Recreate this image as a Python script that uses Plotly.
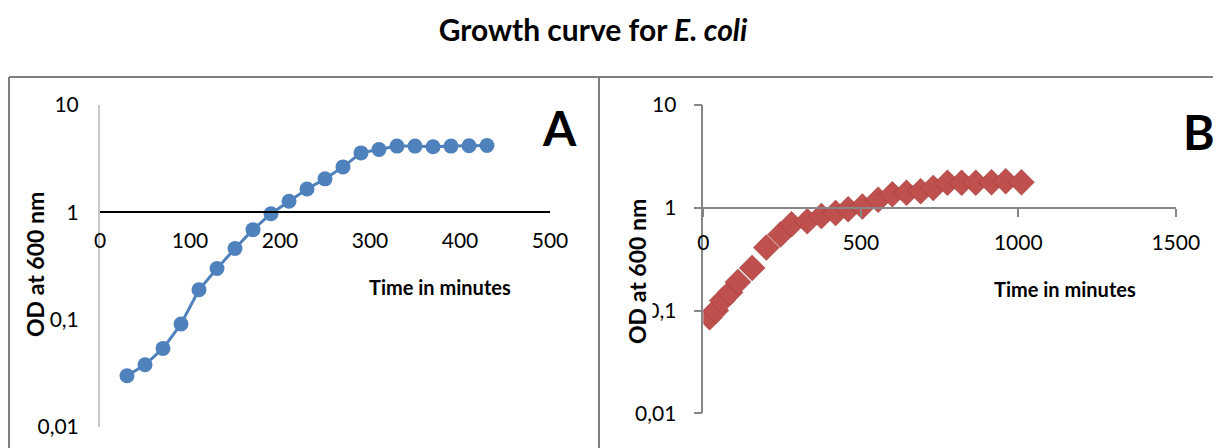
import plotly.graph_objects as go

# ---- Data ----
time_a = [30, 50, 70, 90, 110, 130, 150, 170, 190, 210, 230, 250, 270, 290, 310, 330, 350, 370, 390, 410, 430]
od_a = [0.030, 0.038, 0.054, 0.091, 0.19, 0.30, 0.46, 0.69, 0.97, 1.27, 1.65, 2.05, 2.65, 3.58, 3.85, 4.14, 4.14, 4.08, 4.14, 4.17, 4.20]

time_b = [20, 40, 60, 85, 110, 155, 200, 245, 280, 330, 375, 420, 460, 505, 555, 600, 645, 690, 730, 775, 820, 865, 915, 960, 1010]
od_b = [0.086, 0.10, 0.125, 0.15, 0.19, 0.26, 0.41, 0.55, 0.69, 0.74, 0.83, 0.89, 0.97, 1.03, 1.20, 1.35, 1.40, 1.45, 1.56, 1.75, 1.75, 1.75, 1.77, 1.81, 1.77]

y_tickvals = [0.01, 0.1, 1, 10]
y_ticktext = ["0,01", "0,1", "1", "10"]
xa_ticks = [0, 100, 200, 300, 400, 500]
xb_ticks = [0, 500, 1000, 1500]

title_text = "<b>Growth curve for <i>E. coli</i></b>"
x_title = "<b>Time in minutes</b>"
y_title = "<b>OD at 600 nm</b>"

# The page places the figure 8px in from the top-left corner (body margin),
# so the figure is sized and laid out to compensate.
OFF = 8
W, H = 1213, 440
FONT = "Lato"

def px(x):
    return (x - OFF) / W

def py(y):
    return 1 - (y - OFF) / H

# layout geometry (screen pixels)
a_dom_x = [px(100), px(550)]
a_dom_y = [py(427), py(105)]
b_dom_x = [px(703.3), px(1175.8)]
b_dom_y = [py(413.3), py(105)]

a_pos = a_dom_y[0] + (a_dom_y[1] - a_dom_y[0]) * 2 / 3
b_pos = b_dom_y[0] + (b_dom_y[1] - b_dom_y[0]) * 2 / 3

fig = go.Figure()
fig.add_trace(go.Scatter(
    x=time_a, y=od_a, mode="lines+markers", xaxis="x", yaxis="y",
    line=dict(color="#4f81bd", width=3),
    marker=dict(symbol="circle", size=15, color="#4f81bd"),
    showlegend=False,
))
fig.add_trace(go.Scatter(
    x=time_b, y=od_b, mode="markers", xaxis="x2", yaxis="y2",
    marker=dict(symbol="diamond", size=20, color="#c0504d",
                line=dict(color="rgba(130,45,42,0.6)", width=0.6)),
    showlegend=False,
))

tickfont = dict(family=FONT, size=21, color="#000000")

fig.update_layout(
    width=W, height=H,
    margin=dict(l=0, r=0, t=0, b=0, pad=0, autoexpand=False),
    paper_bgcolor="white", plot_bgcolor="rgba(0,0,0,0)",
    title=dict(text=title_text, x=px(593), xanchor="center", y=py(30), yanchor="middle",
               font=dict(family=FONT, size=30, color="#000000"), automargin=False),
    xaxis=dict(domain=a_dom_x, range=[0, 500], anchor="free", position=a_pos, automargin=False,
               showline=True, linecolor="#000000", linewidth=2, showgrid=False, zeroline=False,
               tickvals=xa_ticks, ticks="", ticklabelstandoff=9, tickfont=tickfont),
    yaxis=dict(domain=a_dom_y, type="log", range=[-2, 1], anchor="x", automargin=False,
               showline=True, linecolor="#c8c8c8", linewidth=2, showgrid=False, zeroline=False,
               tickvals=y_tickvals, ticktext=y_ticktext, ticks="", ticklabelstandoff=15,
               tickfont=tickfont),
    xaxis2=dict(domain=b_dom_x, range=[0, 1500], anchor="free", position=b_pos, automargin=False,
                showline=True, linecolor="#868686", linewidth=1.5, showgrid=False, zeroline=False,
                tickvals=xb_ticks, ticks="outside", ticklen=8, tickcolor="#868686", tickwidth=1.5,
                ticklabelstandoff=8, tickfont=tickfont),
    yaxis2=dict(domain=b_dom_y, type="log", range=[-2, 1], anchor="x2", automargin=False,
                showline=True, linecolor="#868686", linewidth=1.5, showgrid=False, zeroline=False,
                tickvals=y_tickvals, ticktext=y_ticktext, ticks="outside", ticklen=8,
                tickcolor="#868686", tickwidth=1.5, ticklabelstandoff=13, tickfont=tickfont),
)

# panel frame
frame = dict(color="#7f7f7f", width=2)
fig.add_shape(type="line", xref="paper", yref="paper", x0=px(9), x1=1.0, y0=py(77), y1=py(77), line=frame)
fig.add_shape(type="line", xref="paper", yref="paper", x0=px(9), x1=px(9), y0=0, y1=py(77), line=frame)
fig.add_shape(type="line", xref="paper", yref="paper", x0=px(599), x1=px(599), y0=0, y1=py(77), line=frame)

xlab = dict(family=FONT, size=20, color="#000000")
ylab = dict(family=FONT, size=23, color="#000000")
ann = [
    dict(text=x_title, x=px(440), y=py(287), font=xlab),
    dict(text=x_title, x=px(1065), y=py(289), font=xlab),
    dict(text=y_title, x=px(35), y=py(265), textangle=-90, font=ylab),
    dict(text=y_title, x=px(637), y=py(272), textangle=-90, font=ylab, bgcolor="white"),
    dict(text="<b>A</b>", x=px(559), y=py(127), font=dict(family=FONT, size=48, color="#000000")),
    dict(text="<b>B</b>", x=px(1199), y=py(132), font=dict(family=FONT, size=48, color="#000000")),
]
for a in ann:
    fig.add_annotation(xref="paper", yref="paper", xanchor="center", yanchor="middle",
                       showarrow=False, **a)

fig.write_html("out.html")
